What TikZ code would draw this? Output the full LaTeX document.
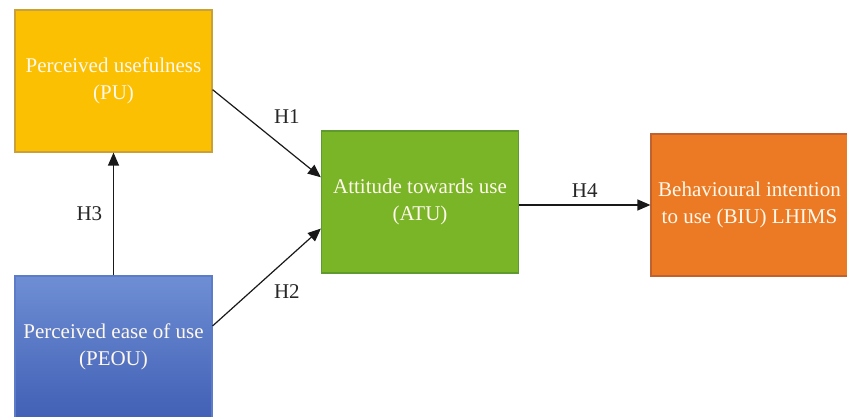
\documentclass[tikz,border=0pt]{standalone}
\usepackage{fontspec}
\setmainfont{Liberation Serif}
\usetikzlibrary{arrows.meta,positioning}
\definecolor{pufill}{HTML}{FBC002}
\definecolor{puedge}{HTML}{C9A03A}
\definecolor{peoutop}{HTML}{6E8ED4}
\definecolor{peoubot}{HTML}{4260B5}
\definecolor{peouedge}{HTML}{5C7CC9}
\definecolor{atufill}{HTML}{7AB427}
\definecolor{atuedge}{HTML}{5F9A2E}
\definecolor{biufill}{HTML}{EC7A25}
\definecolor{biuedge}{HTML}{BF6230}
\definecolor{labeltext}{HTML}{FFF8EC}

\begin{document}
\begin{tikzpicture}[x=0.5pt, y=-0.5pt,
    every node/.style={font=\fontsize{10.5}{13.5}\selectfont},
    construct/.style={rectangle, draw, line width=0.6pt, text=labeltext,
      align=center, inner sep=0pt, minimum width=98.5pt, minimum height=71pt},
    hyp/.style={-{Triangle[length=6.5pt,width=5.5pt]}, line width=0.6pt, black!90},
    hyplabel/.style={text=black!85}]
  \useasboundingbox (0,0) rectangle (847,417);
  \clip (0,0) rectangle (847,417);

  \node[construct, fill=pufill, draw=puedge] (pu) at (113.5,81)
    {Perceived usefulness\\(PU)};
  \node[construct, top color=peoutop, bottom color=peoubot, draw=peouedge] (peou) at (113.5,347)
    {Perceived ease of use\\(PEOU)};
  \node[construct, fill=atufill, draw=atuedge] (atu) at (420,202)
    {Attitude towards use\\(ATU)};
  \node[construct, fill=biufill, draw=biuedge] (biu) at (749.5,205)
    {Behavioural intention\\to use (BIU) LHIMS};

  \draw[hyp] (pu.-5) -- node[hyplabel, midway, above right, yshift=1.5pt] {H1} (atu.166);
  \draw[hyp] (peou.12) -- node[hyplabel, midway, below right] {H2} (atu.195);
  \draw[hyp] (peou.north) -- node[hyplabel, midway, left=2pt] {H3} (pu.south);
  \draw[hyp] (atu.east |- biu.west) -- node[hyplabel, midway, above] {H4} (biu.west);
\end{tikzpicture}
\end{document}
